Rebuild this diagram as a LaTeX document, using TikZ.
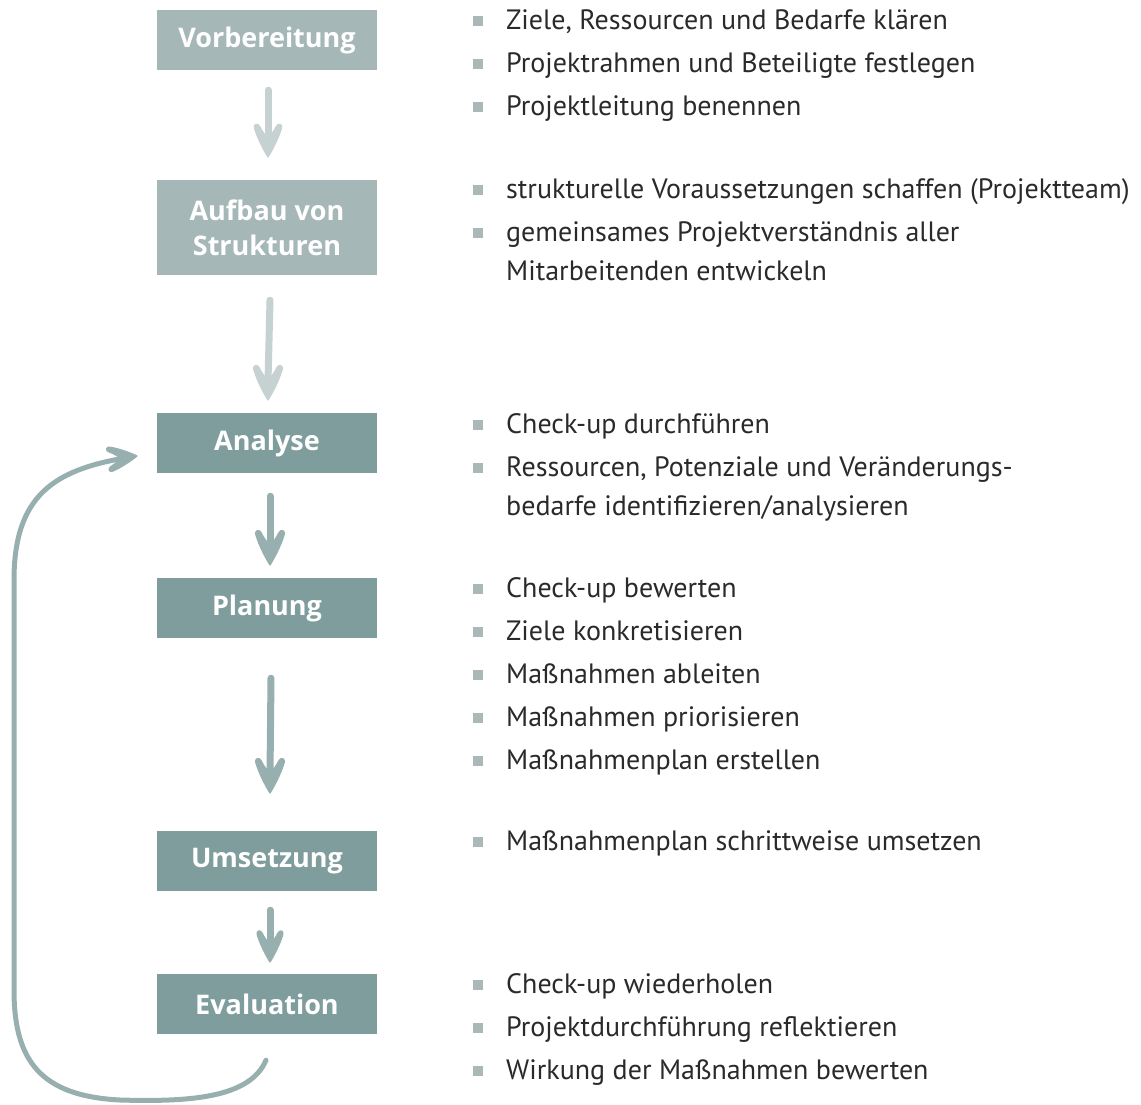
\documentclass[tikz,border=0pt]{standalone}
\usepackage{fontspec}
\setmainfont{PT Sans}
\newfontfamily\boxfont{Open Sans}
\definecolor{boxlight}{HTML}{A6B7B7}
\definecolor{boxdark}{HTML}{7F9D9D}
\definecolor{arrlight}{HTML}{C6D1D1}
\definecolor{arrdark}{HTML}{98AFAF}
\definecolor{bulletc}{HTML}{AAB8B8}
\definecolor{txt}{HTML}{2A2A2A}
\tikzset{
  stage/.style={minimum width=220pt, minimum height=60pt, inner sep=0pt, text=white,
    font=\boxfont\bfseries\fontsize{27}{35}\selectfont, align=center},
  stagelight/.style={stage, fill=boxlight},
  stagedark/.style={stage, fill=boxdark},
  shaft/.style={line width=7pt, line cap=round},
  item/.style={anchor=base west, inner sep=0pt, text=txt, font=\fontsize{28}{30}\selectfont},
  bul/.style={fill=bulletc, minimum size=10pt, inner sep=0pt},
}
% hand-drawn arrow head, tip at #1, extra scope options #2
\newcommand{\ahead}[2]{%
  \begin{scope}[shift={(#1)},#2]
  \path[fill, draw, line width=1.5pt, line join=round]
    (0,0) .. controls (-5,-8) and (-11,-20) .. (-14,-30)
    .. controls (-15.5,-34) and (-11,-36) .. (-9,-32)
    .. controls (-6,-26) and (-3,-22) .. (0,-20)
    .. controls (3,-22) and (6,-26) .. (9,-32)
    .. controls (11,-36) and (15.5,-34) .. (14,-30)
    .. controls (11,-20) and (5,-8) .. (0,0) -- cycle;
  \end{scope}}
\newcommand{\bitem}[3]{%
  \node[bul] (#1b) at (477.5,#2-8) {};
  \node[item] (#1) at (506,#2) {#3};}
\newcommand{\citem}[3]{%
  \node[item] (#1) at (506,#2) {#3};}
\begin{document}
\begin{tikzpicture}[x=1pt,y=-1pt]
\useasboundingbox (0,0) rectangle (1141,1104);
% stages
\node[stagelight] (vor) at (267,40) {Vorbereitung};
\node[stagelight, minimum height=95pt, font=\boxfont\bfseries\fontsize{27}{35}\selectfont] (auf) at (267,227.5) {Aufbau von\\Strukturen};
\node[stagedark] (ana) at (267,443) {Analyse};
\node[stagedark] (pla) at (267,608) {Planung};
\node[stagedark] (ums) at (267,861) {Umsetzung};
\node[stagedark] (eva) at (267,1004) {Evaluation};
% arrow end points
\coordinate (a1s) at ([xshift=1pt,yshift=-20pt]vor.south);
\coordinate (a1e) at ([xshift=1pt,yshift=23pt]auf.north);
\coordinate (a2s) at ([xshift=3pt,yshift=-25pt]auf.south);
\coordinate (a2e) at ([xshift=1pt,yshift=13pt]ana.north);
\coordinate (a3s) at ([xshift=3pt,yshift=-23pt]ana.south);
\coordinate (a3e) at ([xshift=3pt,yshift=13pt]pla.north);
\coordinate (a4s) at ([xshift=4pt,yshift=-40pt]pla.south);
\coordinate (a4e) at ([xshift=3pt,yshift=38pt]ums.north);
\coordinate (a5s) at ([xshift=3pt,yshift=-19pt]ums.south);
\coordinate (a5e) at ([xshift=3pt,yshift=12pt]eva.north);
% arrows
\begin{scope}[color=arrlight]
\draw[shaft] (a1s) -- ([yshift=18pt]a1e);
\ahead{a1e}{scale=0.95}
\draw[shaft] (a2s) -- ([yshift=18pt]a2e);
\ahead{a2e}{}
\end{scope}
\begin{scope}[color=arrdark]
\draw[shaft] (a3s) -- ([yshift=18pt]a3e);
\ahead{a3e}{}
\draw[shaft] (a4s) -- ([yshift=18pt]a4e);
\ahead{a4e}{}
\draw[shaft] (a5s) -- ([yshift=16pt]a5e);
\ahead{a5e}{scale=0.9}
% loop back
\coordinate (ls) at ([xshift=-1pt,yshift=-26pt]eva.south);
\coordinate (le) at ([xshift=-20pt,yshift=-13pt]ana.west);
\coordinate (lend) at ([xshift=-12pt,yshift=-2pt]le);
\draw[line width=5pt, line cap=round]
  (ls) .. controls (250,1098) and (190,1102) .. (120,1100)
  .. controls (40,1096) and (14,1060) .. (14,990)
  -- (14,580)
  .. controls (14,495) and (55,470) .. (lend);
\ahead{le}{rotate=97, scale=0.85}
\end{scope}
% texts
\bitem{t1}{29}{Ziele, Ressourcen und Bedarfe klären}
\bitem{t2}{72}{Projektrahmen und Beteiligte festlegen}
\bitem{t3}{115}{Projektleitung benennen}
\bitem{t4}{198}{strukturelle Voraussetzungen schaffen (Projektteam)}
\bitem{t5}{241}{gemeinsames Projektverständnis aller}
\citem{t6}{280}{Mitarbeitenden entwickeln}
\bitem{t7}{433}{Check-up durchführen}
\bitem{t8}{476}{Ressourcen, Potenziale und Veränderungs-}
\citem{t9}{515}{bedarfe identifizieren/analysieren}
\bitem{t10}{597}{Check-up bewerten}
\bitem{t11}{640}{Ziele konkretisieren}
\bitem{t12}{683}{Maßnahmen ableiten}
\bitem{t13}{726}{Maßnahmen priorisieren}
\bitem{t14}{769}{Maßnahmenplan erstellen}
\bitem{t15}{850}{Maßnahmenplan schrittweise umsetzen}
\bitem{t16}{993}{Check-up wiederholen}
\bitem{t17}{1036}{Projektdurchführung reflektieren}
\bitem{t18}{1079}{Wirkung der Maßnahmen bewerten}
\end{tikzpicture}
\end{document}
